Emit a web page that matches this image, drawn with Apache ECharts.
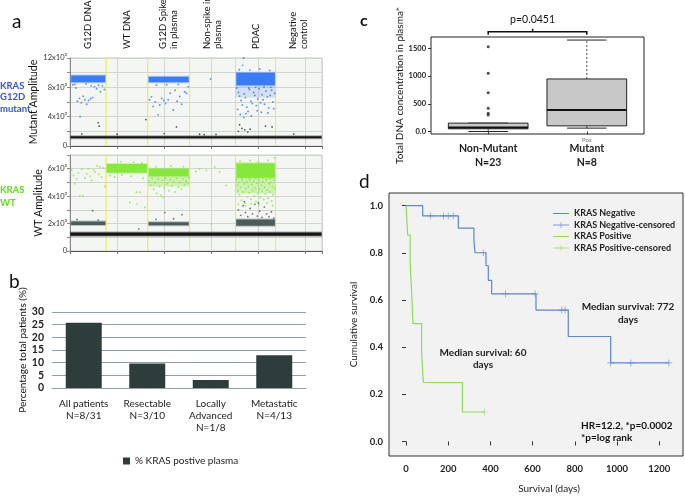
<!DOCTYPE html>
<html><head><meta charset="utf-8">
<script src="https://cdn.jsdelivr.net/npm/echarts@6/dist/echarts.min.js"></script>
<style>html,body{margin:0;padding:0;background:#fff}#c{width:685px;height:499px}</style>
</head><body><div id="c"></div>
<script>
// ================= DATA =================
// ---- panel a : droplet digital PCR (x = event number, thousands; y = amplitude)
const wellNames = ['G12D DNA','WT DNA','G12D Spike\nin plasma','Non-spike in\nplasma','PDAC','Negative\ncontrol'];
const wellCenters = [7.6, 24.2, 41.9, 60.5, 78.8, 97.1];
const wellBoundaries = [15.3, 33, 50.8, 70.3, 87.3];
// dense droplet clusters: [xStart, xEnd, amplitudeLow, amplitudeHigh]
const mutNegBand = [[0,107,1050,1330]];
const mutPosBands = [[0.3,15.2,8700,9600],[33.2,50.6,8700,9450],[70.4,87.2,8300,10000]];
const mutPosHaze = [[70.4,87.2,6600,8300]];
const wtNegBand = [[0,107,1120,1340]];
const wtGrayBands = [[0.3,15.2,1900,2150],[33.2,50.6,1880,2100],[70.4,87.2,1850,2300]];
const wtPosBands = [[15.4,32.9,5700,6350],[33.2,50.6,5450,6000],[70.4,87.2,5350,6400]];
const wtPosHaze = [[33.2,50.6,4700,5450],[70.4,87.2,4200,5350]];
// scattered droplets
const mutPosScatter = [
 [1.2,8350],[2.5,7900],[3.1,6100],[4.0,6500],[4.8,5900],[5.6,6800],[6.3,6300],[7.1,5700],[7.9,6200],[8.8,6450],
 [9.6,6600],[10.4,8100],[11.3,7800],[12.1,8300],[12.9,7400],[13.8,8200],[14.6,7700],[4.3,4000],[2.0,8400],[6.8,8450],[9.0,8200],
 [33.8,6300],[34.6,6700],[35.3,5400],[36.2,6000],[37.4,4250],[38.1,5600],[39.0,6500],[39.8,6200],[40.6,5800],[41.7,6300],
 [42.5,7200],[43.8,4900],[44.6,7600],[45.5,6100],[46.6,6750],[47.4,5700],[48.7,7400],[49.4,7200],[50.2,8100],[36.7,8300],[41.0,8350],[46.0,8400],
 [59.7,9150],
 [70.8,7900],[71.5,7300],[72.0,6800],[72.6,6200],[73.2,5600],[73.7,12000],[73.3,11000],[74.0,7100],[74.5,6600],[75.1,5300],
 [75.6,4700],[76.2,7700],[76.8,6100],[77.4,5800],[78.0,7300],[78.5,6900],[79.1,5500],[79.7,6400],[80.3,7800],[80.9,5900],
 [81.5,7000],[82.0,6300],[82.6,5700],[83.2,7500],[83.8,6700],[84.4,5200],[85.0,6900],[85.6,7600],[86.2,6000],[86.9,7200],
 [71.2,5000],[72.3,4300],[73.8,3900],[74.7,4400],[77.0,4100],[79.5,4800],[81.2,4600],[84.0,4500],[86.5,5100],[75.9,7900],
 [78.8,8000],[82.4,8050],[85.3,8000],[71.9,10400],[76.4,10350],[80.6,10500],[84.8,10300]
];
const mutDarkScatter = [
 [12.0,3200],[12.4,2700],[32.2,3600],[45.2,2600],[72.0,2900],[73.0,2400],[74.2,2200],[75.5,1900],[76.5,2300],
 [83.0,2700],[85.8,2600],[71.5,2000],[5,1650],[20,1600],[40,1700],[62,1580],[95,1620],[55,1600],[57,1550]
];
const wtPosScatter = [
 [0.7,5880],[1.5,5500],[2.1,4900],[2.8,5260],[3.6,5700],[4.2,4040],[5.0,5950],[5.6,4040],[6.4,5300],[7.1,5630],
 [7.8,6000],[8.5,5450],[9.2,5140],[10.0,5900],[10.6,5760],[11.5,6200],[12.2,5600],[12.7,6120],[13.4,5390],[14.2,6050],[14.8,4700],
 [17,5500],[19,5400],[22,5550],[25.4,3540],[26,5450],[28.2,4280],[28.5,3420],[29.7,4280],[31,5300],[21.5,6500],[27,6480],[30.5,6420],[31.8,3180],
 [33.5,5100],[34.2,4800],[34.8,5300],[35.5,4500],[36.1,5000],[36.8,4200],[37.4,5250],[38.0,4700],[38.7,4050],[39.3,5150],
 [40.0,4600],[40.6,5300],[41.3,4900],[42.0,4400],[42.6,5200],[43.3,4750],[44.0,5050],[44.6,4300],[45.3,5300],[46.0,4650],
 [46.6,5000],[47.3,4500],[48.0,5250],[48.6,4850],[49.3,5100],[50.0,4950],[50.5,5350],[36.5,6150],[42.8,6200],[48.2,6150],[39.5,3900],
 [55,5990],[57.9,5880],[61.4,6120],[63.5,5760],[66.3,4780],[60,1960],[53.5,5800],
 [70.6,5200],[71.0,4800],[71.3,4400],[71.7,5000],[72.0,4100],[72.4,4650],[72.8,3700],[73.1,5150],[73.5,4300],[73.9,4900],
 [74.2,3500],[74.6,4550],[75.0,5050],[75.3,3950],[75.7,4700],[76.1,4250],[76.4,5200],[76.8,3800],[77.2,4850],[77.5,4400],
 [77.9,5100],[78.3,4000],[78.6,4600],[79.0,3600],[79.4,4950],[79.7,4200],[80.1,5150],[80.5,4500],[80.8,3900],[81.2,4800],
 [81.6,4350],[81.9,5050],[82.3,3750],[82.7,4650],[83.0,4150],[83.4,5200],[83.8,4450],[84.1,3850],[84.5,4900],[84.9,4300],
 [85.2,5000],[85.6,3650],[86.0,4700],[86.3,4100],[86.7,5150],[87.0,4550],[71.5,3400],[74.4,3300],[77.0,3450],[80.2,3350],
 [83.6,3500],[86.1,3300],[73.0,5300],[75.8,5300],[78.9,5280],[82.0,5300],[85.0,5290],[72.2,6550],[76.5,6600],[80.0,6500],[84.0,6620],[86.9,6800]
];
const wtGrayScatter = [
 [9.6,2940],[3,2300],[12,2250],[29.2,1600],[40.2,2800],[47.5,2650],[36.5,2300],[44,2350],
 [71.5,3000],[72.5,2600],[73.5,3300],[74.5,2800],[75.5,2500],[76.5,3100],[77.5,2700],[78.5,3400],[79.5,2550],
 [80.5,2900],[81.5,2450],[82.5,3200],[83.5,2700],[84.5,2500],[85.5,2850],[86.5,2400],[74.0,3600],[80.0,3500]
];

// ---- panel b
const stageCategories = ['All patients\nN=8/31','Resectable\nN=3/10','Locally\nAdvanced\nN=1/8','Metastatic\nN=4/13'];
const krasPositivePct = [25.8, 9.7, 3.2, 12.9];
const barSeriesName = '% KRAS postive plasma';

// ---- panel c : [group, min, Q1, median, Q3, max]
const groupNames = ['Non-Mutant\nN=23','Mutant\nN=8'];
const boxStats = [[1, 0, 49, 72, 151, 151],[2, 61, 102, 390, 948, 1650]];
const nonMutantOutliers = [[1,1530],[1,1050],[1,700],[1,420],[1,330],[1,300]];
const pValueText = 'p=0.0451';

// ---- panel d : Kaplan-Meier
const kmNegative = [[0,1],[79,0.956],[248,0.904],[322,0.852],[327,0.8],[379,0.745],[390,0.683],[406,0.626],[616,0.557],[769,0.445],[970,0.333],[1246,0.333]];
const kmNegCensored = [[117,0.956],[177,0.956],[200,0.956],[224,0.956],[366,0.8],[472,0.626],[612,0.626],[738,0.557],[754,0.557],[970,0.333],[1066,0.333],[1246,0.333]];
const kmPositive = [[0,1],[8,0.875],[20,0.75],[27,0.625],[33,0.5],[74,0.375],[82,0.25],[267,0.125],[372,0.125]];
const kmPosCensored = [[372,0.125]];
const kmNames = ['KRAS Negative','KRAS Negative-censored','KRAS Positive','KRAS Positive-censored'];

// ================= CHART =================
const FONT = 'Lato, "Open Sans", sans-serif';
const BLUE = '#3b7bf5', GREEN = '#86e83c', GRAY = '#4c5c5c', BLACK = '#151515';
const KM_BLUE = '#5b86d6', KM_GREEN = '#8edc5a';
const chart = echarts.init(document.getElementById('c'), null, {renderer:'canvas'});

function bandRenderer(color, alpha){
  return function(params, api){
    const a = api.coord([api.value(0), api.value(3)]);
    const b = api.coord([api.value(1), api.value(2)]);
    const w = b[0]-a[0], h = b[1]-a[1];
    if (alpha) {
      return {type:'rect', shape:{x:a[0], y:a[1], width:w, height:h}, style:{fill:color, opacity:alpha}};
    }
    return {type:'group', children:[
      {type:'rect', shape:{x:a[0], y:a[1]-1, width:w, height:h+2}, style:{fill:color, opacity:0.35}},
      {type:'rect', shape:{x:a[0]+0.5, y:a[1], width:w-1, height:h}, style:{fill:color}}
    ]};
  };
}
function vLineRenderer(params, api){
  const top = api.coord([api.value(0), api.value(1)]);
  const bot = api.coord([api.value(0), api.value(2)]);
  return {type:'line', shape:{x1:top[0], y1:top[1], x2:bot[0], y2:bot[1]}, style:{stroke:'#eeee2c', lineWidth:1}};
}
function aX(gi){
  return {type:'value', gridIndex:gi, min:0, max:107, interval:20,
    axisLabel:{show:false}, axisLine:{lineStyle:{color:'#555'}},
    axisTick:{show:true, length:3, lineStyle:{color:'#777'}},
    splitLine:{show:true, lineStyle:{color:'#d2d5d2', width:1}}};
}
function supLabel(v, step){
  if (v % step !== 0) return '';
  return v === 0 ? '0' : (v/1000) + 'x10³';
}
const crossPath = 'path://M0,4.5h10v1h-10z M4.5,0h1v10h-1z';
const legLine = 'path://M0,0h0.01v0.01h-0.01z M0,4.5h20v1h-20z M19.99,9.99h0.01v0.01h-0.01z';
const legCross = 'path://M0,0h0.01v0.01h-0.01z M0,4.5h20v1h-20z M9.5,1.5h1v7h-1z M19.99,9.99h0.01v0.01h-0.01z';

function renderBox(params, api){
  const x = api.value(0);
  const mn = api.value(1), q1 = api.value(2), md = api.value(3), q3 = api.value(4), mx = api.value(5);
  const hw = 0.404, cw = 0.2;
  const P = (dx, v) => api.coord([x + dx, v]);
  const tl = P(-hw, q3), br = P(hw, q1);
  const ml = P(-hw, md), mr = P(hw, md);
  const c3 = P(0, q3), cMax = P(0, mx), c1 = P(0, q1), cMin = P(0, mn);
  const capT1 = P(-cw, mx), capT2 = P(cw, mx), capB1 = P(-cw, mn), capB2 = P(cw, mn);
  return {type:'group', children:[
    {type:'line', shape:{x1:c3[0], y1:c3[1], x2:cMax[0], y2:cMax[1]}, style:{stroke:'#444', lineWidth:1, lineDash:[2,2]}},
    {type:'line', shape:{x1:c1[0], y1:c1[1], x2:cMin[0], y2:cMin[1]}, style:{stroke:'#444', lineWidth:1, lineDash:[2,2]}},
    {type:'line', shape:{x1:capT1[0], y1:capT1[1], x2:capT2[0], y2:capT2[1]}, style:{stroke:'#222', lineWidth:1}},
    {type:'line', shape:{x1:capB1[0], y1:capB1[1], x2:capB2[0], y2:capB2[1]}, style:{stroke:'#222', lineWidth:1}},
    {type:'rect', shape:{x:tl[0], y:tl[1], width:br[0]-tl[0], height:br[1]-tl[1]}, style:{fill:'#c8c8c8', stroke:'#222', lineWidth:1}},
    {type:'line', shape:{x1:ml[0], y1:ml[1], x2:mr[0], y2:mr[1]}, style:{stroke:'#111', lineWidth:2}}
  ]};
}

const option = {
  animation:false,
  textStyle:{fontFamily:FONT},
  grid:[
    {left:70, top:58, width:252, height:88, show:true, backgroundColor:'#f4f6f3', borderColor:'#c8c8c8', borderWidth:1},
    {left:70, top:155, width:252, height:96, show:true, backgroundColor:'#f4f6f3', borderColor:'#c8c8c8', borderWidth:1},
    {left:52, top:312, width:254, height:76},
    {left:431, top:37, width:213, height:97, show:true, borderColor:'#222', borderWidth:1},
    {left:389, top:193, width:294, height:272, show:true, backgroundColor:'#f2f2f2', borderColor:'#333', borderWidth:1}
  ],
  xAxis:[
    aX(0), aX(1),
    {type:'category', gridIndex:2, data:stageCategories,
      axisLine:{lineStyle:{color:'#8fa2aa'}}, axisTick:{show:false},
      axisLabel:{interval:0, fontSize:10, color:'#222', lineHeight:12, margin:10, fontFamily:FONT}},
    {type:'value', gridIndex:3, min:0.42, max:2.58, splitLine:{show:false}, axisLine:{show:false},
      axisTick:{show:true, length:3, customValues:[1,2], lineStyle:{color:'#444'}},
      axisLabel:{customValues:[1,2], formatter:v=>groupNames[Math.round(v)-1], fontSize:10.5, fontWeight:'bold', color:'#222', lineHeight:14, margin:8, fontFamily:FONT}},
    {type:'value', gridIndex:4, min:-80.6, max:1312.8, splitLine:{show:false},
      axisLine:{show:false},
      axisTick:{show:true, length:4, customValues:[0,200,400,600,800,1000,1200], lineStyle:{color:'#333'}},
      axisLabel:{customValues:[0,200,400,600,800,1000,1200], formatter:v=>String(v), fontSize:9.5, fontWeight:'bold', color:'#222', margin:8, fontFamily:FONT},
      name:'Survival (days)', nameLocation:'middle', nameGap:28,
      nameTextStyle:{fontSize:10, color:'#222', padding:[0,0,0,26], fontFamily:FONT}}
  ],
  yAxis:[
    {type:'value', gridIndex:0, min:0, max:12000, interval:2000,
      axisLabel:{formatter:v=>supLabel(v,4000), fontSize:7.5, color:'#333', margin:3, fontFamily:FONT},
      axisLine:{show:true, lineStyle:{color:'#888'}}, axisTick:{show:true, length:3, lineStyle:{color:'#888'}},
      splitLine:{show:true, lineStyle:{color:'#d2d5d2'}},
      name:'Mutant Amplitude', nameLocation:'middle', nameGap:16, nameTextStyle:{fontSize:10.5, color:'#111', fontFamily:FONT}},
    {type:'value', gridIndex:1, min:0, max:7000, interval:1000,
      axisLabel:{formatter:v=>supLabel(v,2000), fontSize:7.5, color:'#333', margin:3, fontFamily:FONT},
      axisLine:{show:true, lineStyle:{color:'#888'}}, axisTick:{show:true, length:3, lineStyle:{color:'#888'}},
      splitLine:{show:true, lineStyle:{color:'#d2d5d2'}},
      name:'WT Amplitude', nameLocation:'middle', nameGap:16, nameTextStyle:{fontSize:10.5, color:'#111', fontFamily:FONT}},
    {type:'value', gridIndex:2, min:0, max:30, interval:5,
      axisLine:{show:false}, axisTick:{show:false},
      axisLabel:{fontSize:10.5, fontWeight:'bold', color:'#222', margin:8, fontFamily:FONT},
      splitLine:{show:true, lineStyle:{color:'#8fa2aa', width:1}},
      name:'Percentage total patients (%)', nameLocation:'middle', nameGap:20, nameTextStyle:{fontSize:10, color:'#111', fontFamily:FONT}},
    {type:'value', gridIndex:3, min:-45, max:1705, splitLine:{show:false}, axisLine:{show:false},
      axisTick:{show:true, length:3, customValues:[0,500,1000,1500], lineStyle:{color:'#333'}},
      axisLabel:{customValues:[0,500,1000,1500], formatter:v=>v===0?'0.0':String(v), fontSize:7.5, fontWeight:'bold', color:'#222', margin:5, fontFamily:FONT},
      name:'Total DNA concentration in plasma*', nameLocation:'middle', nameGap:24, nameTextStyle:{fontSize:10, color:'#111', fontFamily:FONT}},
    {type:'value', gridIndex:4, min:-0.0615, max:1.0533, splitLine:{show:false}, axisLine:{show:false},
      axisTick:{show:true, length:4, customValues:[0,0.2,0.4,0.6,0.8,1.0], lineStyle:{color:'#333'}},
      axisLabel:{customValues:[0,0.2,0.4,0.6,0.8,1.0], formatter:v=>v.toFixed(1), fontSize:9.5, fontWeight:'bold', color:'#222', margin:6, fontFamily:FONT},
      name:'Cumulative survival', nameLocation:'middle', nameGap:30, nameTextStyle:{fontSize:10, color:'#222', fontFamily:FONT}}
  ],
  legend:[
    {data:[barSeriesName], left:118, top:451, icon:'rect', itemWidth:7, itemHeight:7, itemGap:4,
      textStyle:{fontSize:10, color:'#222', fontFamily:FONT}},
    {data:[
      {name:kmNames[0], icon:legLine},
      {name:kmNames[1], icon:legCross},
      {name:kmNames[2], icon:legLine},
      {name:kmNames[3], icon:legCross}],
      orient:'vertical', left:548, top:204, itemWidth:16, itemHeight:8, itemGap:2.5,
      textStyle:{fontSize:9, fontWeight:'bold', color:'#222', fontFamily:FONT}}
  ],
  series:[
    // panel a top
    {type:'custom', xAxisIndex:0, yAxisIndex:0, renderItem:vLineRenderer,
      data:wellBoundaries.map(v=>[v, 12000, 0]), encode:{x:0, y:[1,2]}, z:1, silent:true},
    {type:'custom', xAxisIndex:0, yAxisIndex:0, renderItem:bandRenderer(BLUE, 0.18), data:mutPosHaze, encode:{x:[0,1], y:[2,3]}, z:2, silent:true},
    {type:'custom', xAxisIndex:0, yAxisIndex:0, renderItem:bandRenderer(BLACK), data:mutNegBand, encode:{x:[0,1], y:[2,3]}, z:3, silent:true},
    {type:'custom', xAxisIndex:0, yAxisIndex:0, renderItem:bandRenderer(BLUE), data:mutPosBands, encode:{x:[0,1], y:[2,3]}, z:3, silent:true},
    {type:'scatter', xAxisIndex:0, yAxisIndex:0, data:mutPosScatter, symbolSize:1.9, itemStyle:{color:BLUE}, z:4, silent:true},
    {type:'scatter', xAxisIndex:0, yAxisIndex:0, data:mutDarkScatter, symbolSize:1.8, itemStyle:{color:'#333'}, z:4, silent:true},
    // panel a bottom
    {type:'custom', xAxisIndex:1, yAxisIndex:1, renderItem:vLineRenderer,
      data:wellBoundaries.map(v=>[v, 7000, 0]), encode:{x:0, y:[1,2]}, z:1, silent:true},
    {type:'custom', xAxisIndex:1, yAxisIndex:1, renderItem:bandRenderer(GREEN, 0.35), data:wtPosHaze, encode:{x:[0,1], y:[2,3]}, z:2, silent:true},
    {type:'custom', xAxisIndex:1, yAxisIndex:1, renderItem:bandRenderer(BLACK), data:wtNegBand, encode:{x:[0,1], y:[2,3]}, z:3, silent:true},
    {type:'custom', xAxisIndex:1, yAxisIndex:1, renderItem:bandRenderer(GRAY), data:wtGrayBands, encode:{x:[0,1], y:[2,3]}, z:3, silent:true},
    {type:'custom', xAxisIndex:1, yAxisIndex:1, renderItem:bandRenderer(GREEN), data:wtPosBands, encode:{x:[0,1], y:[2,3]}, z:3, silent:true},
    {type:'scatter', xAxisIndex:1, yAxisIndex:1, data:wtPosScatter, symbolSize:1.9, itemStyle:{color:GREEN}, z:4, silent:true},
    {type:'scatter', xAxisIndex:1, yAxisIndex:1, data:wtGrayScatter, symbolSize:1.8, itemStyle:{color:GRAY}, z:4, silent:true},
    // panel b
    {type:'bar', name:barSeriesName, xAxisIndex:2, yAxisIndex:2, data:krasPositivePct, barWidth:36, itemStyle:{color:'#2e3c3c'}, silent:true},
    // panel c
    {type:'custom', xAxisIndex:3, yAxisIndex:3, renderItem:renderBox, data:boxStats, encode:{x:0, y:[1,5]}, silent:true},
    {type:'scatter', xAxisIndex:3, yAxisIndex:3, data:nonMutantOutliers, symbolSize:3, itemStyle:{color:'#222'}, silent:true},
    // panel d
    {type:'line', name:kmNames[0], xAxisIndex:4, yAxisIndex:4, data:kmNegative, step:'end', showSymbol:false, symbol:'none',
      lineStyle:{color:KM_BLUE, width:1.2}, itemStyle:{color:KM_BLUE}, silent:true},
    {type:'scatter', name:kmNames[1], xAxisIndex:4, yAxisIndex:4, data:kmNegCensored, symbol:crossPath, symbolSize:7,
      itemStyle:{color:KM_BLUE}, silent:true},
    {type:'line', name:kmNames[2], xAxisIndex:4, yAxisIndex:4, data:kmPositive, step:'end', showSymbol:false, symbol:'none',
      lineStyle:{color:KM_GREEN, width:1.2}, itemStyle:{color:KM_GREEN}, silent:true},
    {type:'scatter', name:kmNames[3], xAxisIndex:4, yAxisIndex:4, data:kmPosCensored, symbol:crossPath, symbolSize:7,
      itemStyle:{color:KM_GREEN}, silent:true}
  ]
};
chart.setOption(option);

// ---------- annotations ----------
const g = [];
const txt = (x, y, text, style, extra) => g.push(Object.assign({type:'text', x, y, silent:true,
  style:Object.assign({text, fontFamily:FONT, fill:'#111'}, style)}, extra||{}));

// panel letters
txt(12, 12, 'a', {fontSize:19});
txt(9, 272, 'b', {fontSize:19});
txt(360, 13, 'c', {fontSize:16, fontWeight:'bold'});
txt(359, 172, 'd', {fontSize:19});

// panel a well headers (positioned from the x scale)
wellNames.forEach((name, i) => {
  const p = chart.convertToPixel({xAxisIndex:0, yAxisIndex:0}, [wellCenters[i], 0]);
  txt(p[0], 49, name, {fontSize:9.5, align:'left', verticalAlign:'middle', lineHeight:11}, {rotation:Math.PI/2});
});
// panel a side labels
txt(0, 80, 'KRAS\nG12D\nmutant', {fontSize:9.5, fontWeight:'bold', fill:'#3553e0', lineHeight:11.5});
txt(0, 184, 'KRAS\nWT', {fontSize:9.5, fontWeight:'bold', fill:'#5ee01c', lineHeight:12.5});

// panel c bracket and p value
const b1 = chart.convertToPixel({xAxisIndex:3, yAxisIndex:3}, [1, 1799]);
const b2 = chart.convertToPixel({xAxisIndex:3, yAxisIndex:3}, [2, 1799]);
const bm = chart.convertToPixel({xAxisIndex:3, yAxisIndex:3}, [1.45, 1799]);
g.push({type:'polyline', silent:true, shape:{points:[[b1[0], b1[1]+3],[b1[0], b1[1]],[b2[0], b2[1]],[b2[0], b2[1]+3]]},
  style:{stroke:'#111', lineWidth:1.5, fill:null}});
g.push({type:'line', silent:true, shape:{x1:bm[0], y1:bm[1], x2:bm[0], y2:bm[1]-3}, style:{stroke:'#111', lineWidth:1.5}});
txt(bm[0], bm[1]-12, pValueText, {fontSize:10.5, align:'center', verticalAlign:'middle'});
const pp = chart.convertToPixel({xAxisIndex:3, yAxisIndex:3}, [2, 0]);
txt(pp[0], pp[1]+9, 'Pos', {fontSize:6, fill:'#777', align:'center', verticalAlign:'middle'});

// panel d notes
txt(628, 313, 'Median survival: 772\ndays', {fontSize:10, fontWeight:'bold', align:'center', verticalAlign:'middle', lineHeight:13, fill:'#222'});
txt(483, 359, 'Median survival: 60\ndays', {fontSize:10, fontWeight:'bold', align:'center', verticalAlign:'middle', lineHeight:12, fill:'#222'});
txt(581, 432, 'HR=12.2, *p=0.0002\n*p=log rank', {fontSize:10, fontWeight:'bold', align:'left', verticalAlign:'middle', lineHeight:12, fill:'#111'});

chart.setOption({graphic:g});
</script></body></html>
